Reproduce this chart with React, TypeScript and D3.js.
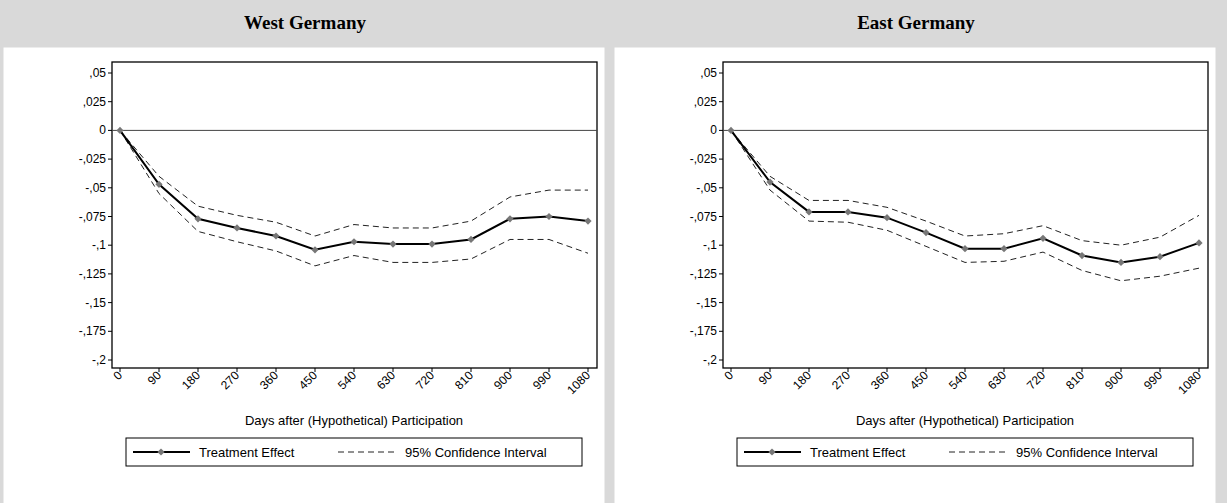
import * as d3 from "d3";
import React from "react";

const days = [0, 90, 180, 270, 360, 450, 540, 630, 720, 810, 900, 990, 1080];
const yTicks = [0.05, 0.025, 0, -0.025, -0.05, -0.075, -0.1, -0.125, -0.15, -0.175, -0.2];

const westEffect = [0, -0.047, -0.077, -0.085, -0.092, -0.104, -0.097, -0.099, -0.099, -0.095, -0.077, -0.075, -0.079];
const westUpper = [0, -0.04, -0.066, -0.074, -0.08, -0.092, -0.082, -0.085, -0.085, -0.079, -0.058, -0.052, -0.052];
const westLower = [0, -0.055, -0.088, -0.097, -0.105, -0.118, -0.109, -0.115, -0.115, -0.112, -0.095, -0.095, -0.107];

const eastEffect = [0, -0.045, -0.071, -0.071, -0.076, -0.089, -0.103, -0.103, -0.094, -0.109, -0.115, -0.11, -0.098];
const eastUpper = [0, -0.04, -0.061, -0.061, -0.067, -0.079, -0.092, -0.09, -0.083, -0.096, -0.1, -0.093, -0.074];
const eastLower = [0, -0.052, -0.079, -0.08, -0.087, -0.101, -0.115, -0.114, -0.106, -0.122, -0.131, -0.127, -0.12];

const fmt = (v: number) => {
  if (v === 0) return "0";
  const s = Math.abs(v).toString().replace("0.", ",");
  return (v < 0 ? "-" : "") + s;
};

const marker = d3.symbol(d3.symbolSquare, 26)() ?? "";

const Panel = ({ dx, title, eff, up, lo }: { dx: number; title: string; eff: number[]; up: number[]; lo: number[] }) => {
  const x = d3.scaleLinear().domain([0, 1080]).range([120, 588]);
  const y = d3.scaleLinear().domain([0.05, -0.2]).range([73, 360]);
  const line = d3.line<number>().x((_, i) => x(days[i])).y((v) => y(v));
  const font = "'Liberation Sans', Arial, sans-serif";
  return (
    <g transform={`translate(${dx},0)`}>
      <text x={305} y={29} textAnchor="middle" fontFamily="'Liberation Serif', 'Times New Roman', serif" fontWeight="bold" fontSize={19}>{title}</text>
      <rect x={3} y={47} width={602} height={460} fill="#fff" stroke="#d9d9d9" />
      <rect x={112} y={62} width={485} height={306} fill="none" stroke="#000" strokeWidth={1.3} />
      <line x1={112} x2={597} y1={y(0)} y2={y(0)} stroke="#444" strokeWidth={1} />
      {yTicks.map((t) => (
        <g key={t}>
          <line x1={108} x2={112} y1={y(t)} y2={y(t)} stroke="#000" />
          <text x={106} y={y(t) + 4} textAnchor="end" fontFamily={font} fontSize={12}>{fmt(t)}</text>
        </g>
      ))}
      {days.map((d) => (
        <g key={d}>
          <line x1={x(d)} x2={x(d)} y1={368} y2={372} stroke="#000" />
          <text transform={`translate(${x(d) + 3},${376}) rotate(-45)`} textAnchor="end" fontFamily={font} fontSize={12}>{d}</text>
        </g>
      ))}
      <path d={line(up) ?? ""} fill="none" stroke="#222" strokeWidth={1} strokeDasharray="6,4" />
      <path d={line(lo) ?? ""} fill="none" stroke="#222" strokeWidth={1} strokeDasharray="6,4" />
      <path d={line(eff) ?? ""} fill="none" stroke="#000" strokeWidth={2} />
      {eff.map((v, i) => (
        <path key={i} d={marker} transform={`translate(${x(days[i])},${y(v)}) rotate(45)`} fill="#777" />
      ))}
      <text x={354} y={425} textAnchor="middle" fontFamily={font} fontSize={13}>Days after (Hypothetical) Participation</text>
      <rect x={126} y={438} width={456} height={28} fill="#fff" stroke="#000" />
      <line x1={133} x2={190} y1={452} y2={452} stroke="#000" strokeWidth={2} />
      <path d={marker} transform="translate(161,452) rotate(45)" fill="#777" />
      <text x={199} y={457} fontFamily={font} fontSize={13}>Treatment Effect</text>
      <line x1={338} x2={398} y1={452} y2={452} stroke="#222" strokeDasharray="6,4" />
      <text x={405} y={457} fontFamily={font} fontSize={13}>95% Confidence Interval</text>
    </g>
  );
};

export default function App() {
  return (
    <svg width={1227} height={503} style={{ display: "block", position: "absolute", left: 0, top: 0 }}>
      <rect x={0} y={0} width={1227} height={503} fill="#d9d9d9" />
      <Panel dx={0} title="West Germany" eff={westEffect} up={westUpper} lo={westLower} />
      <Panel dx={611} title="East Germany" eff={eastEffect} up={eastUpper} lo={eastLower} />
    </svg>
  );
}
